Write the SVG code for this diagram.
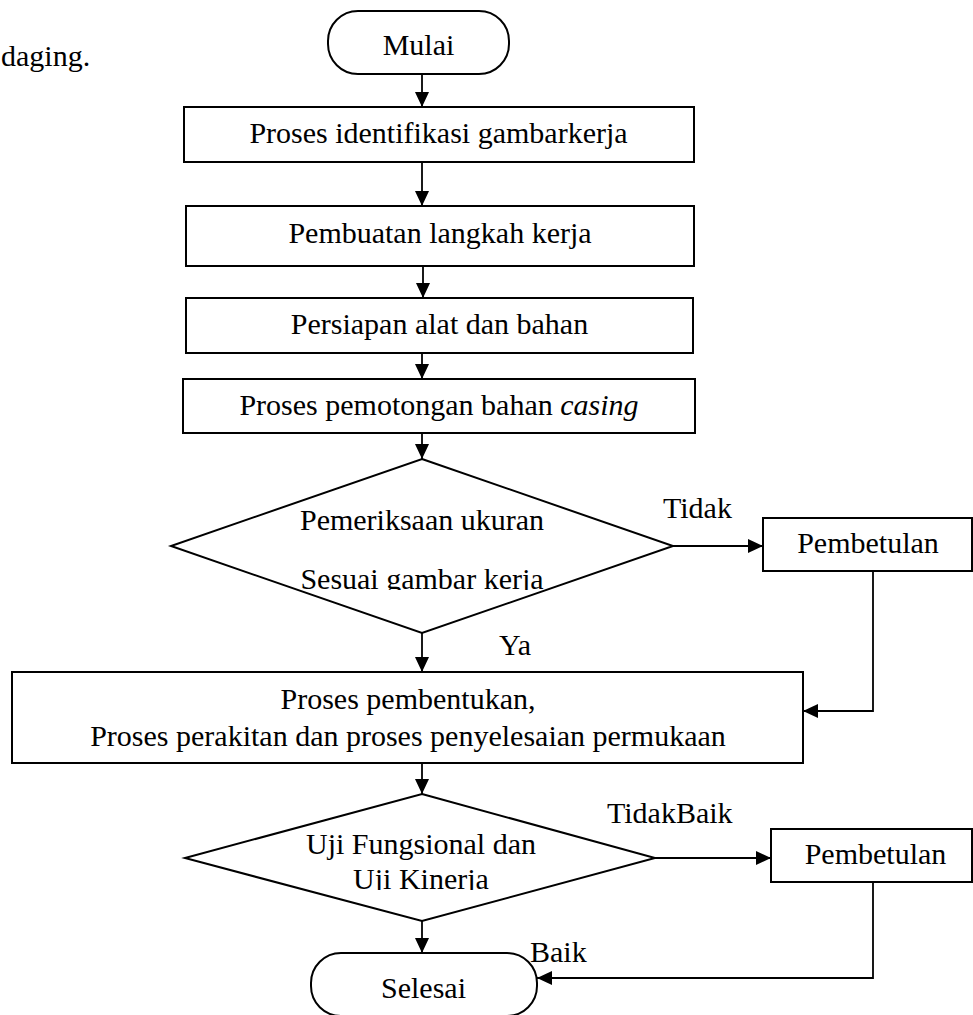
<svg xmlns="http://www.w3.org/2000/svg" width="973" height="1015" viewBox="0 0 973 1015">
  <style>
    text { font-family: "Liberation Serif", "Times New Roman", serif; font-size: 30px; fill: #000; }
    .c { text-anchor: middle; }
    .shape { fill: #fff; stroke: #000; stroke-width: 2; }
    .conn { fill: none; stroke: #000; stroke-width: 1.8; }
  </style>
  <defs>
    <marker id="arrow" markerUnits="userSpaceOnUse" markerWidth="15" markerHeight="14" refX="15" refY="7" orient="auto">
      <path d="M0,0 L15,7 L0,14 Z" fill="#000"/>
    </marker>
    <clipPath id="clip1"><rect x="150" y="450" width="560" height="140"/></clipPath>
    <clipPath id="clip2"><rect x="150" y="790" width="560" height="100"/></clipPath>
  </defs>
  <rect width="973" height="1015" fill="#fff"/>

  <text x="1" y="66">daging.</text>

  <g id="connectors">
    <path class="conn" d="M422,74 V107" marker-end="url(#arrow)"/>
    <path class="conn" d="M422,162 V206" marker-end="url(#arrow)"/>
    <path class="conn" d="M423,266 V298" marker-end="url(#arrow)"/>
    <path class="conn" d="M422,353 V379" marker-end="url(#arrow)"/>
    <path class="conn" d="M422,433 V459" marker-end="url(#arrow)"/>
    <path class="conn" d="M673,546 H763" marker-end="url(#arrow)"/>
    <path class="conn" d="M422,633 V672" marker-end="url(#arrow)"/>
    <path class="conn" d="M873,571 V711 H803" marker-end="url(#arrow)"/>
    <path class="conn" d="M422,763 V794" marker-end="url(#arrow)"/>
    <path class="conn" d="M655,858 H771" marker-end="url(#arrow)"/>
    <path class="conn" d="M422,921 V953" marker-end="url(#arrow)"/>
    <path class="conn" d="M873,882 V978 H537" marker-end="url(#arrow)"/>
    <text x="663" y="518">Tidak</text>
    <text x="499" y="655">Ya</text>
    <text x="607" y="823">TidakBaik</text>
    <text x="530" y="962">Baik</text>
  </g>

  <g id="mulai">
    <rect class="shape" x="328" y="11" width="181" height="63" rx="30" ry="30"/>
    <text class="c" x="418.5" y="55">Mulai</text>
  </g>

  <g id="identifikasi">
    <rect class="shape" x="184" y="107" width="510" height="55"/>
    <text class="c" x="438.5" y="143">Proses identifikasi gambarkerja</text>
  </g>

  <g id="langkah">
    <rect class="shape" x="186" y="206" width="508" height="60"/>
    <text class="c" x="440" y="243">Pembuatan langkah kerja</text>
  </g>

  <g id="persiapan">
    <rect class="shape" x="186" y="298" width="507" height="55"/>
    <text class="c" x="439.5" y="334">Persiapan alat dan bahan</text>
  </g>

  <g id="pemotongan">
    <rect class="shape" x="183" y="379" width="512" height="54"/>
    <text class="c" x="439" y="415">Proses pemotongan bahan <tspan font-style="italic">casing</tspan></text>
  </g>

  <g id="pemeriksaan">
    <polygon class="shape" points="422,459 673,546 422,633 171,546"/>
    <text class="c" x="422" y="530">Pemeriksaan ukuran</text>
    <text class="c" x="422" y="589" clip-path="url(#clip1)">Sesuai gambar kerja</text>
  </g>

  <g id="pembetulan1">
    <rect class="shape" x="763" y="518" width="209" height="53"/>
    <text class="c" x="868" y="553">Pembetulan</text>
  </g>

  <g id="pembentukan">
    <rect class="shape" x="12" y="672" width="791" height="91"/>
    <text class="c" x="408" y="709">Proses pembentukan,</text>
    <text class="c" x="408" y="746">Proses perakitan dan proses penyelesaian permukaan</text>
  </g>

  <g id="uji">
    <polygon class="shape" points="422,794 655,858 422,921 185,858"/>
    <text class="c" x="421" y="854">Uji Fungsional dan</text>
    <text class="c" x="421" y="889" clip-path="url(#clip2)">Uji Kinerja</text>
  </g>

  <g id="pembetulan2">
    <rect class="shape" x="771" y="829" width="201" height="53"/>
    <text class="c" x="875.5" y="864">Pembetulan</text>
  </g>

  <g id="selesai">
    <rect class="shape" x="311" y="953" width="226" height="63" rx="30" ry="30"/>
    <text class="c" x="423.5" y="998">Selesai</text>
  </g>
</svg>
